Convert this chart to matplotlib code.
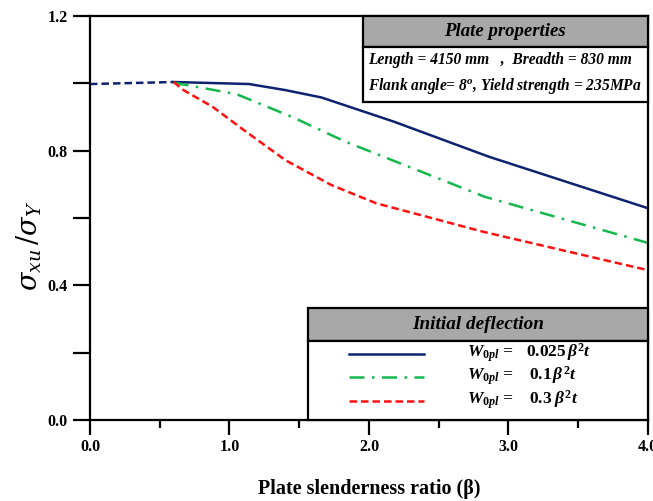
import matplotlib
matplotlib.use("Agg")
import matplotlib.pyplot as plt
from matplotlib.patches import Rectangle
from matplotlib.lines import Line2D

# ---- data ----
pre_x = [0.0, 0.6]
pre_y = [0.998, 1.004]

blue_x = [0.6, 1.14, 1.40, 1.66, 2.0, 2.18, 2.86, 4.0]
blue_y = [1.004, 0.998, 0.980, 0.958, 0.911, 0.886, 0.782, 0.629]

green_x = [0.6, 1.05, 1.45, 1.83, 2.83, 4.0]
green_y = [1.002, 0.968, 0.900, 0.827, 0.663, 0.526]

red_x = [0.6, 0.67, 0.88, 1.12, 1.40, 1.73, 2.05, 2.82, 4.0]
red_y = [1.004, 0.980, 0.930, 0.856, 0.772, 0.698, 0.644, 0.559, 0.445]

x_ticks = [0.0, 1.0, 2.0, 3.0, 4.0]
x_tick_labels = ["0.0", "1.0", "2.0", "3.0", "4.0"]
y_ticks = [0.0, 0.4, 0.8, 1.2]
y_tick_labels = ["0.0", "0.4", "0.8", "1.2"]

legend_labels = [r"$W_{0pl}$ =", r"$W_{0pl}$ =", r"$W_{0pl}$ ="]
legend_values = [r"$0.025\,\beta^{2}t$", r"$0.1\,\beta^{2}t$", r"$0.3\;\beta^{2}t$"]

NAVY = "#0d2270"
GREEN = "#14b84c"
RED = "#ff1010"

styles = [
    dict(color=NAVY, lw=1.8, ls="-"),
    dict(color=GREEN, lw=1.8, ls=(0, (6, 3, 1, 3))),
    dict(color=RED, lw=1.8, ls=(0, (3, 1.6))),
]

plt.rcParams["mathtext.fontset"] = "custom"
plt.rcParams["mathtext.it"] = "Liberation Serif:italic:bold"
plt.rcParams["mathtext.rm"] = "Liberation Serif:bold"
plt.rcParams["mathtext.bf"] = "Liberation Serif:bold"

fig = plt.figure(figsize=(6.53, 5.01), dpi=100)
ax = fig.add_axes([0.1378, 0.1617, 0.8545, 0.8063])

ax.plot(pre_x, pre_y, color=NAVY, lw=1.8, ls=(0, (3, 1.6)))
for (xs, ys), st in zip([(blue_x, blue_y), (green_x, green_y), (red_x, red_y)], styles):
    ax.plot(xs, ys, **st)

ax.set_xlim(0, 4.0)
ax.set_ylim(0, 1.2)
ax.set_xticks(x_ticks)
ax.set_xticklabels(x_tick_labels)
ax.set_yticks(y_ticks)
ax.set_yticklabels(y_tick_labels)
ax.set_xticks([0.5, 1.5, 2.5, 3.5], minor=True)
ax.set_yticks([0.2, 0.6, 1.0], minor=True)

for lab in ax.get_xticklabels() + ax.get_yticklabels():
    lab.set_fontfamily("Liberation Serif")
    lab.set_fontweight("bold")
    lab.set_fontsize(11.5)

ax.tick_params(axis="both", which="both", direction="out", width=1.6, colors="black")
ax.tick_params(axis="y", which="major", length=12, pad=4)
ax.tick_params(axis="y", which="minor", length=12)
ax.tick_params(axis="x", which="major", length=11, pad=3)
ax.tick_params(axis="x", which="minor", length=6)
for sp in ax.spines.values():
    sp.set_linewidth(1.6)

ax.set_xlabel("Plate slenderness ratio (β)", fontfamily="Liberation Serif",
              fontweight="bold", fontsize=14.5, labelpad=17)
ax.set_ylabel(r"$\sigma_{xu}\,/\sigma_{Y}$", fontsize=19.5, math_fontfamily="dejavuserif")
ax.yaxis.set_label_coords(-0.082, 0.43)

tf = ax.transAxes
# Plate properties box
ax.add_patch(Rectangle((0.489, 0.923), 0.511, 0.077, transform=tf, facecolor="#a8a8a8",
                       edgecolor="black", lw=1.6, zorder=5, clip_on=False))
ax.add_patch(Rectangle((0.489, 0.787), 0.511, 0.136, transform=tf, facecolor="white",
                       edgecolor="black", lw=1.6, zorder=5, clip_on=False))
tkw = dict(fontfamily="Liberation Serif", fontweight="bold", fontstyle="italic",
           transform=tf, zorder=6)
ax.text(0.744, 0.961, "Plate properties", ha="center", va="center", fontsize=13.5, **tkw)
ax.text(0.498, 0.891, "Length = 4150 mm   ,  Breadth = 830 mm", ha="left", va="center",
        fontsize=11.2, **tkw)
ax.text(0.498, 0.827, r"Flank angle= 8$^{o}$, Yield strength = 235MPa", ha="left",
        va="center", fontsize=11.2, **tkw)

# Initial deflection legend box
ax.add_patch(Rectangle((0.39, 0.196), 0.61, 0.08, transform=tf, facecolor="#a8a8a8",
                       edgecolor="black", lw=1.6, zorder=5, clip_on=False))
ax.add_patch(Rectangle((0.39, 0.0), 0.61, 0.196, transform=tf, facecolor="white",
                       edgecolor="black", lw=1.6, zorder=5, clip_on=False))
ax.text(0.695, 0.237, "Initial deflection", ha="center", va="center", fontsize=13.8, **tkw)
rows_y = [0.164, 0.106, 0.048]
val_x = [0.781, 0.787, 0.787]
for ry, st, lab, val, vx in zip(rows_y, styles, legend_labels, legend_values, val_x):
    ax.add_line(Line2D([0.4636, 0.598], [ry, ry], transform=tf, zorder=7, **st))
    ax.text(0.676, ry, lab, ha="left", va="center", fontsize=12.5, **tkw)
    ax.text(vx, ry + 0.005, val, ha="left", va="center", fontsize=12.5, **tkw)

fig.savefig("out.png", dpi=100)
